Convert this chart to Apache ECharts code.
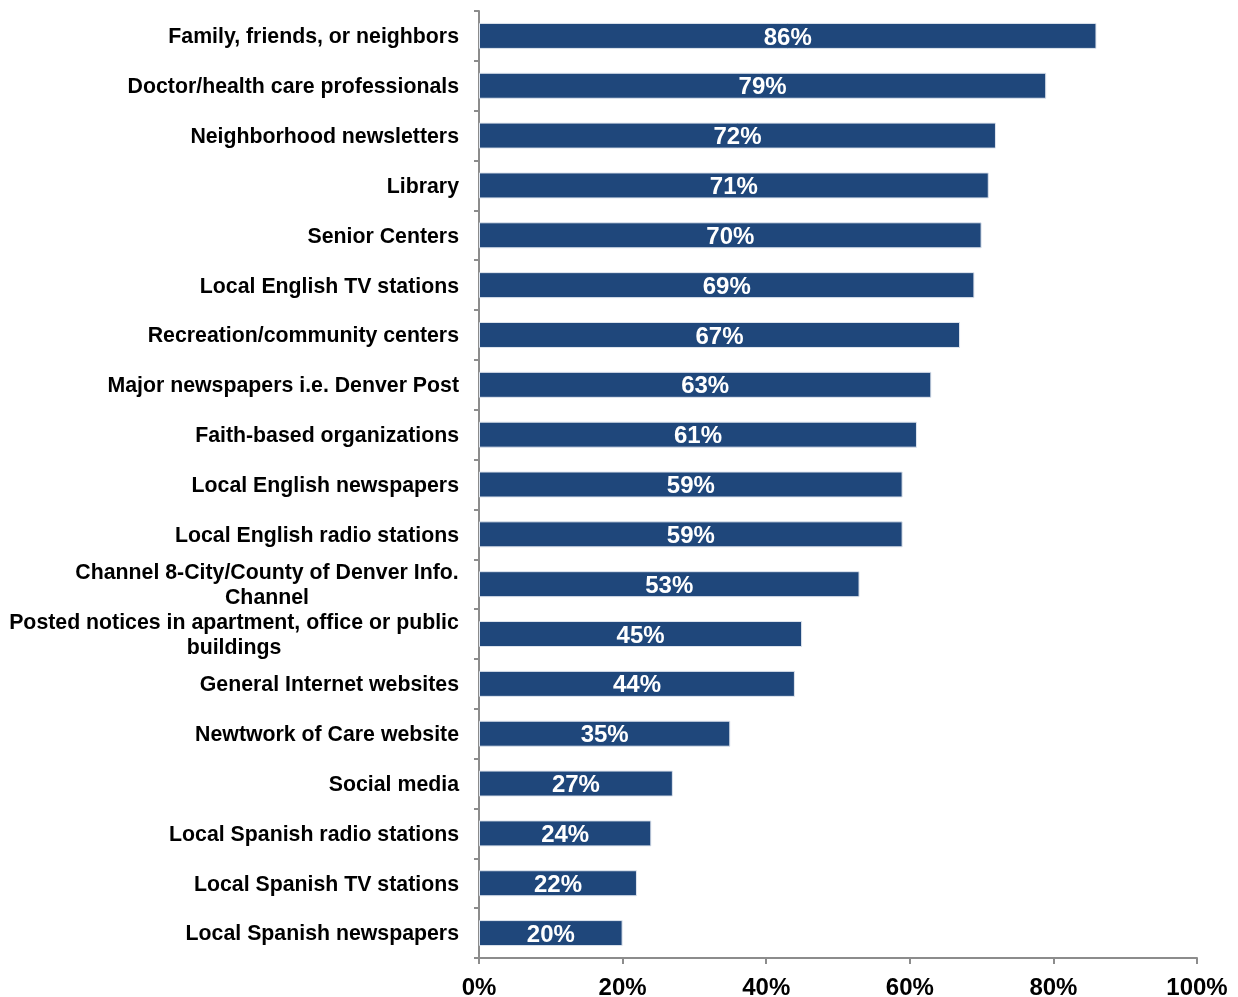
<!DOCTYPE html>
<html>
<head>
<meta charset="utf-8">
<script src="https://cdn.jsdelivr.net/npm/echarts@6/dist/echarts.min.js"></script>
<style>
  html, body { margin: 0; padding: 0; background: #fff; }
  #chart { width: 1238px; height: 997px; }
</style>
</head>
<body>
<div id="chart"></div>
<script>
// categories, top to bottom
const categories = [
  'Family, friends, or neighbors',
  'Doctor/health care professionals',
  'Neighborhood newsletters',
  'Library',
  'Senior Centers',
  'Local English TV stations',
  'Recreation/community centers',
  'Major newspapers i.e. Denver Post',
  'Faith-based organizations',
  'Local English newspapers',
  'Local English radio stations',
  'Channel 8-City/County of Denver Info.\nChannel',
  'Posted notices in apartment, office or public\nbuildings',
  'General Internet websites',
  'Newtwork of Care website',
  'Social media',
  'Local Spanish radio stations',
  'Local Spanish TV stations',
  'Local Spanish newspapers'
];
const values = [86, 79, 72, 71, 70, 69, 67, 63, 61, 59, 59, 53, 45, 44, 35, 27, 24, 22, 20];
const xTicks = [0, 20, 40, 60, 80, 100];

const chart = echarts.init(document.getElementById('chart'));
const axisGray = '#8c8c8c';
const font = 'Liberation Sans, Arial, sans-serif';
const labelSize = 21.3;

// wrapped labels: centre each line under the widest one
const ctx = document.createElement('canvas').getContext('2d');
ctx.font = 'bold ' + labelSize + 'px ' + font;
const wrapW = {};
categories.forEach(function (c) {
  if (c.indexOf('\n') >= 0) {
    wrapW[c] = Math.ceil(Math.max.apply(null, c.split('\n').map(function (s) { return ctx.measureText(s).width; })));
  }
});
const rich = {};
Object.keys(wrapW).forEach(function (c, i) {
  rich['w' + i] = { width: wrapW[c], align: 'center', fontFamily: font, fontWeight: 'bold', fontSize: labelSize, lineHeight: 25, color: '#000' };
});

const option = {
  backgroundColor: '#fff',
  animation: false,
  grid: { left: 479, right: 41, top: 11, bottom: 39, outerBoundsMode: 'none', containLabel: false },
  xAxis: {
    type: 'value',
    min: xTicks[0],
    max: xTicks[xTicks.length - 1],
    interval: 20,
    axisLine: { show: true, lineStyle: { color: axisGray, width: 2 } },
    axisTick: { show: true, length: 6, lineStyle: { color: axisGray, width: 2 } },
    splitLine: { show: false },
    axisLabel: {
      formatter: '{value}%',
      fontFamily: font,
      fontWeight: 'bold',
      fontSize: 24,
      color: '#000',
      margin: 18
    }
  },
  yAxis: {
    type: 'category',
    inverse: true,
    data: categories,
    axisLine: { show: true, lineStyle: { color: axisGray, width: 2 } },
    axisTick: { show: true, length: 5, lineStyle: { color: axisGray, width: 2 } },
    axisLabel: {
      fontFamily: font,
      fontWeight: 'bold',
      fontSize: labelSize,
      lineHeight: 25,
      color: '#000',
      margin: 20,
      align: 'right',
      padding: [3, 0, 0, 0],
      rich: rich,
      formatter: function (v) {
        const keys = Object.keys(wrapW);
        const i = keys.indexOf(v);
        if (i < 0) return v;
        return v.split('\n').map(function (s) { return '{w' + i + '|' + s + '}'; }).join('\n');
      }
    }
  },
  series: [{
    type: 'bar',
    data: values,
    barWidth: 26,
    itemStyle: { color: '#1f477b', borderColor: '#dfe5ee', borderWidth: 1 },
    label: {
      show: true,
      position: 'inside',
      offset: [0, 2],
      formatter: '{c}%',
      fontFamily: font,
      fontWeight: 'bold',
      fontSize: 24,
      color: '#fff'
    }
  }]
};
chart.setOption(option);
</script>
</body>
</html>
